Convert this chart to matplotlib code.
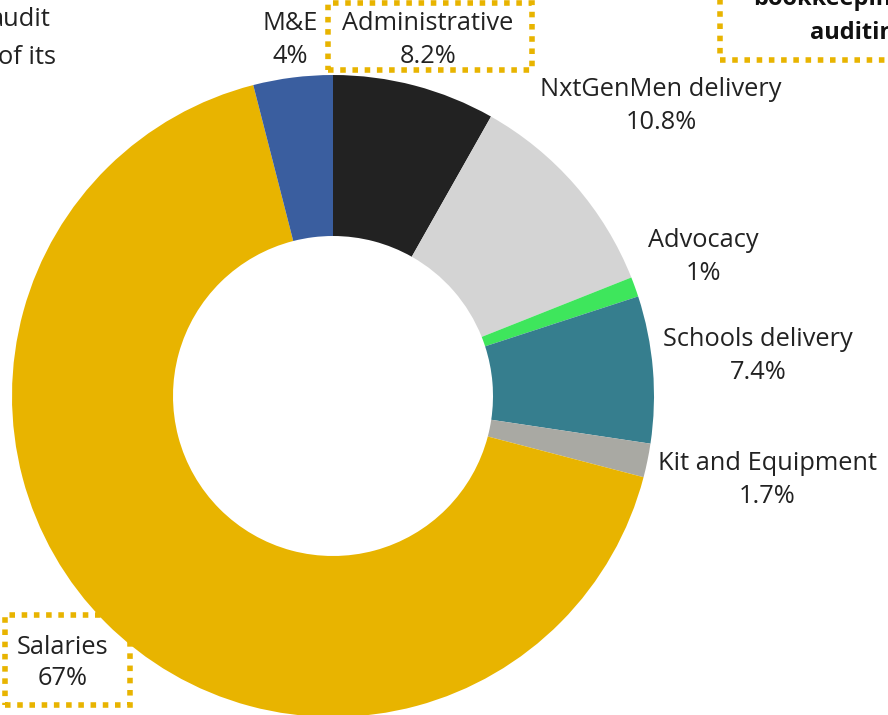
import matplotlib.pyplot as plt
from matplotlib.patches import Rectangle

plt.rcParams['font.family'] = ['Open Sans', 'DejaVu Sans']

# ── data (clockwise from 12 o'clock) ───────────────
categories = ["Administrative", "NxtGenMen delivery", "Advocacy",
              "Schools delivery", "Kit and Equipment", "Salaries", "M&E"]
shares     = [8.2, 10.8, 1.0, 7.4, 1.7, 67.0, 4.0]
pct_labels = ["8.2%", "10.8%", "1%", "7.4%", "1.7%", "67%", "4%"]
colors     = ["#222222", "#d4d4d4", "#3ee65c", "#367e8e", "#a9a9a3",
              "#e8b400", "#3a5e9f"]

# label centres in pixel coords (x, y from top)
label_pos = {
    "Administrative":     (428, 40),
    "NxtGenMen delivery": (661, 106),
    "Advocacy":           (703, 257),
    "Schools delivery":   (758, 356),
    "Kit and Equipment":  (767, 480),
    "Salaries":           (63, 663),
    "M&E":                (290, 40),
}
W, H = 888, 715
CX, CY, R, R_IN = 333, 396, 321, 160
GOLD = "#e8b400"
FS = 18.3

fig = plt.figure(figsize=(W / 100, H / 100), dpi=100)
ax = fig.add_axes([0, 0, 1, 1])

ax.pie(shares, colors=colors, startangle=90, counterclock=False,
       radius=R, center=(CX, H - CY),
       wedgeprops=dict(width=R - R_IN, linewidth=0))

for name, pct in zip(categories, pct_labels):
    x, y = label_pos[name]
    ls = 1.3 if name == "Salaries" else 1.45
    ax.text(x, H - y, f"{name}\n{pct}", ha="center", va="center",
            fontsize=FS, color="#222222", linespacing=ls)

# dotted highlight boxes
def dotted_box(x0, y0, x1, y1):
    ax.add_patch(Rectangle((x0, H - y1), x1 - x0, y1 - y0, fill=False,
                           edgecolor=GOLD, lw=4, linestyle=(0, (1, 1.2)),
                           clip_on=False))

dotted_box(328, 3, 532, 70)
dotted_box(5, 615, 130, 705)
dotted_box(720, -20, 900, 60)

# surrounding text, cropped by the picture edge as in the source
ax.text(51, H - 19, "audit", ha="right", va="center",
        fontsize=FS, color="#222222")
ax.text(56, H - 58, "of its", ha="right", va="center",
        fontsize=FS, color="#222222")
ax.text(753, H + 1, "bookkeeping", ha="left", va="center",
        fontsize=17, fontweight="bold", color="#111111")
ax.text(810, H - 33, "auditing", ha="left", va="center",
        fontsize=17, fontweight="bold", color="#111111")

ax.set_xlim(0, W)
ax.set_ylim(0, H)
ax.set_aspect("equal")
ax.axis("off")

fig.savefig("out.png", dpi=100)
